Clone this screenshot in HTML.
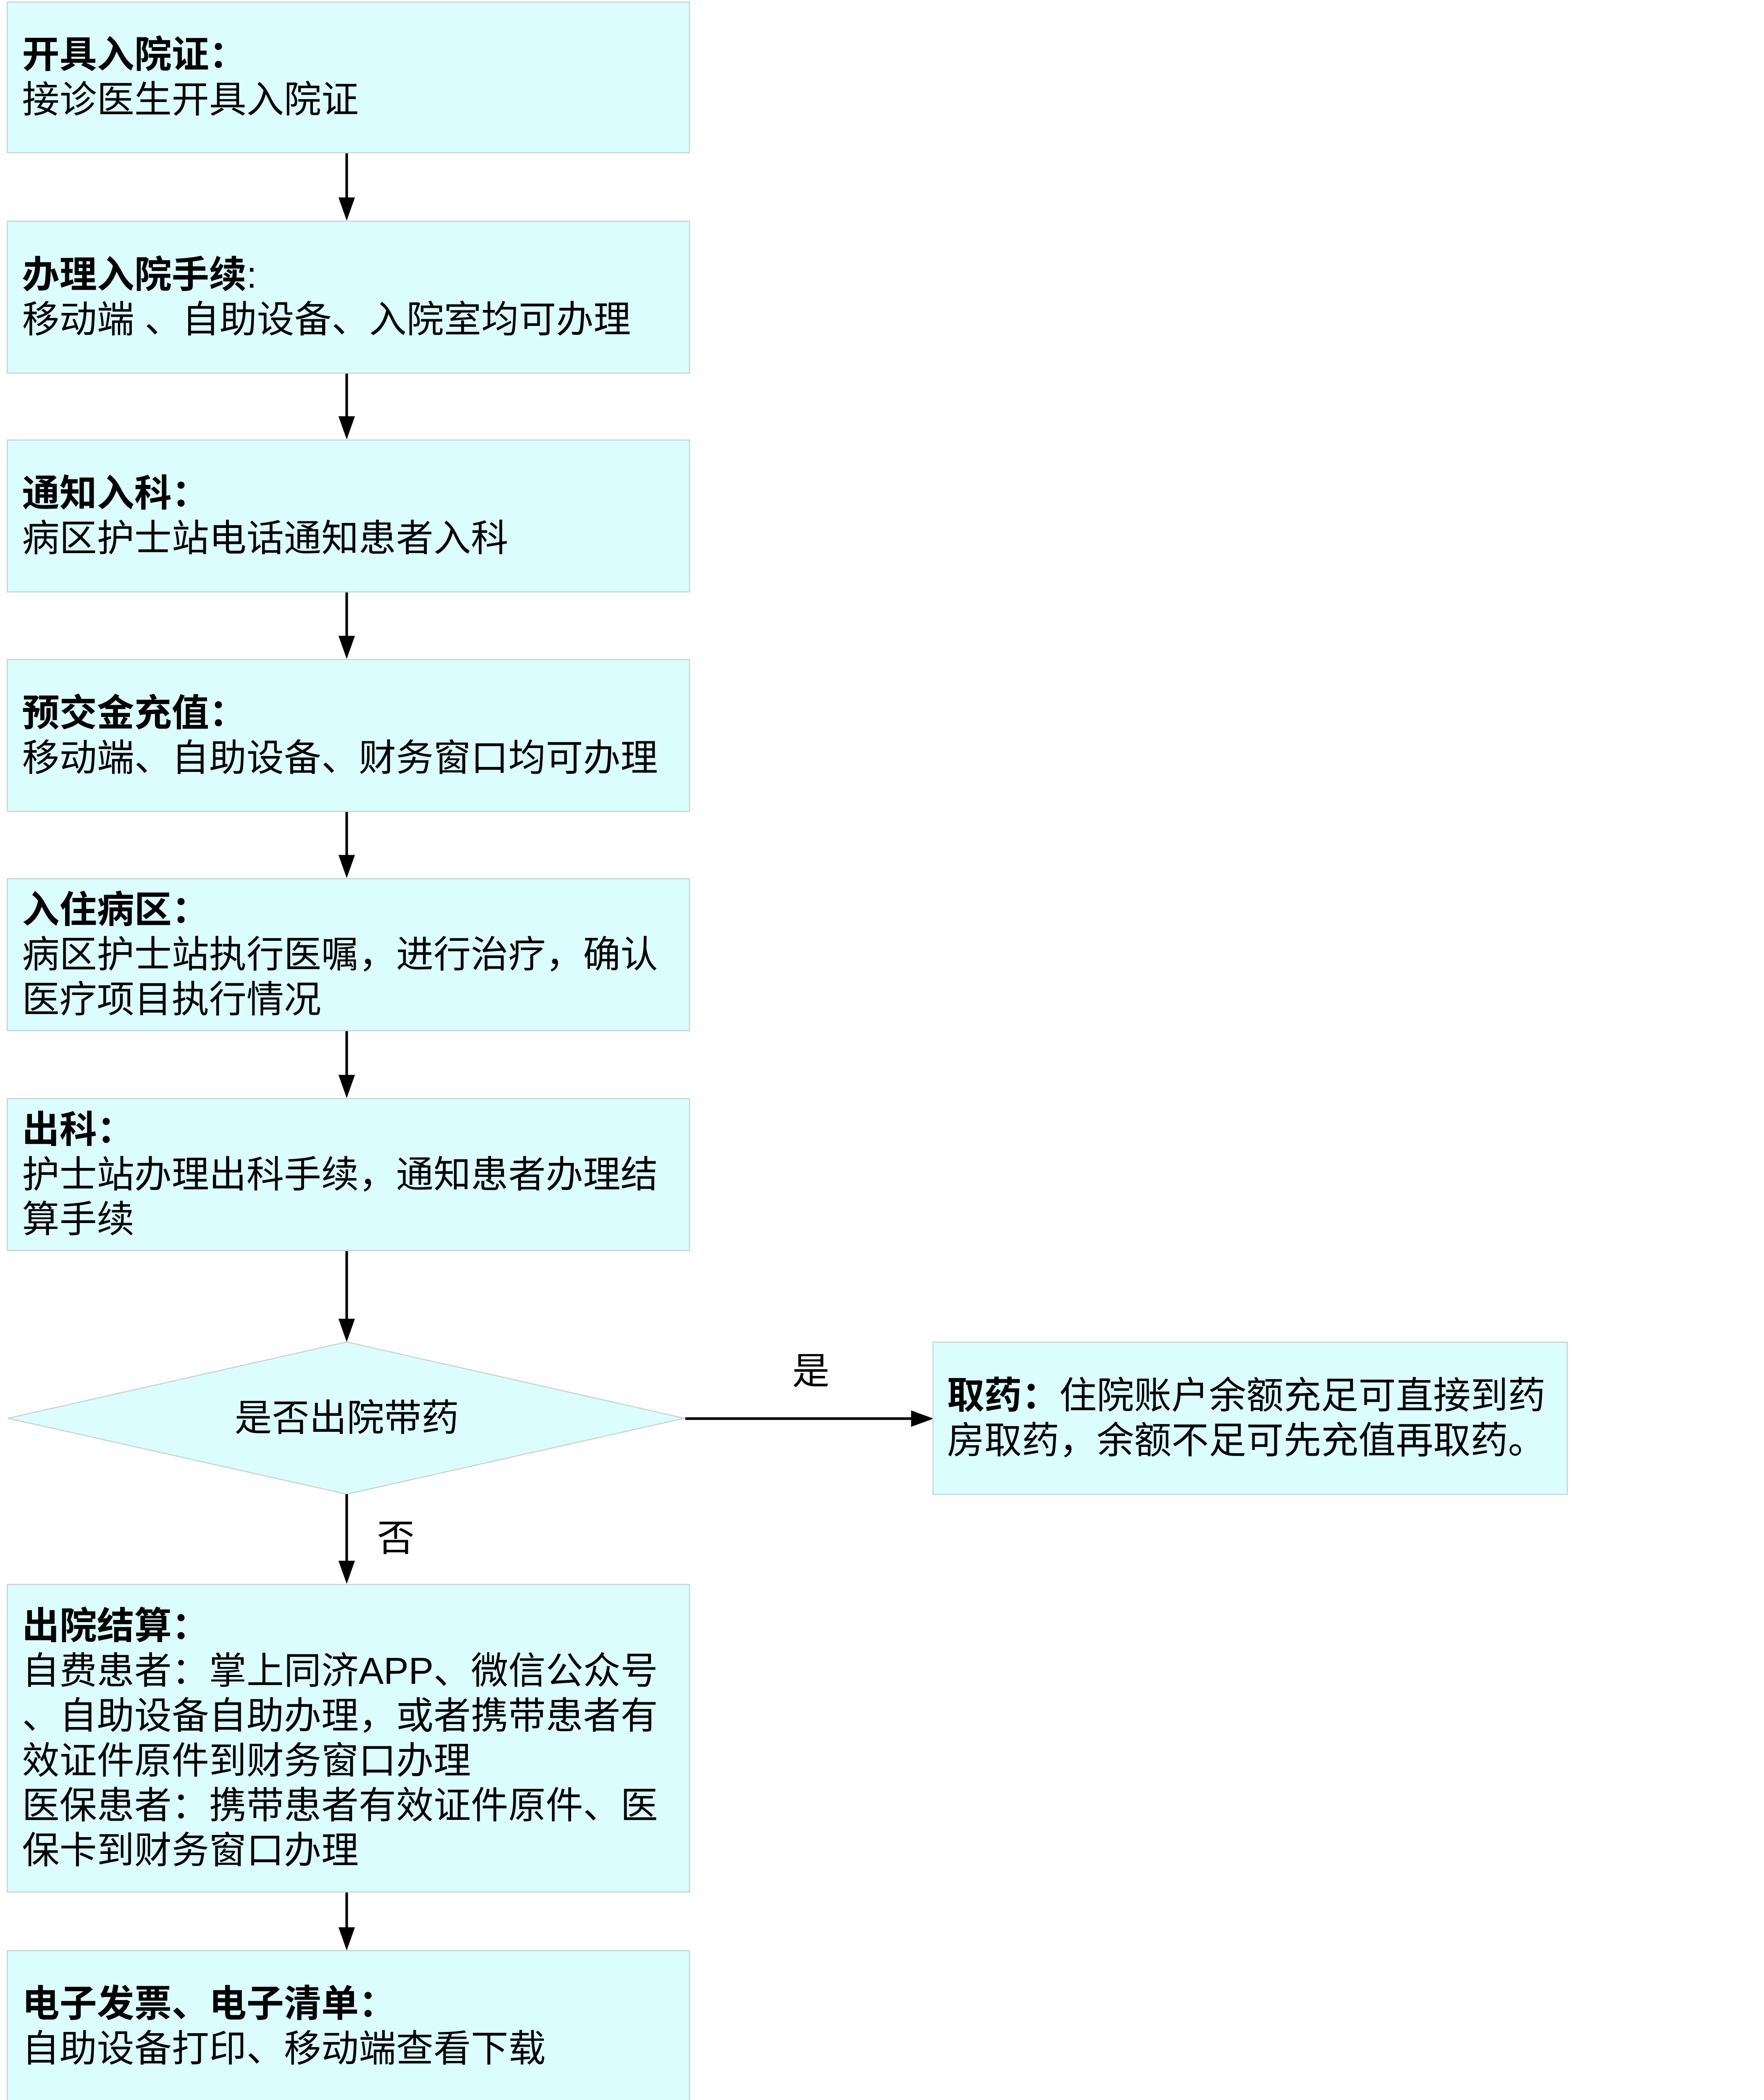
<!DOCTYPE html>
<html><head><meta charset="utf-8"><style>
html{margin:0;padding:0;width:4200px;height:5625px;overflow:hidden;background:#fff;}
body{margin:0;padding:0;background:#fff;width:4200px;height:5625px;position:relative;overflow:hidden;font-family:"Liberation Sans","Noto Sans CJK SC",sans-serif;}
#w{position:absolute;left:0;top:0;width:4200px;height:5625px;transform:scale(0.8905);transform-origin:0 0;}
.b{position:absolute;left:18px;width:1827px;background:#dcfdfd;border:3px solid #c9d3d3;box-sizing:border-box;display:flex;flex-direction:column;justify-content:center;padding-left:38px;font-size:100px;line-height:120px;color:#000;white-space:nowrap;overflow:hidden;}
.b b{font-weight:bold;}
.lbl{position:absolute;font-size:100px;line-height:110px;white-space:nowrap;}
svg{position:absolute;left:0;top:0;}
</style></head><body><div id="w">
<svg width="4200" height="5625">
<polygon points="927,3588 1830,3792 927,3995 21,3792" fill="#dcfdfd" stroke="#c9d3d3" stroke-width="3"/>
<g stroke="#000" stroke-width="7">
<line x1="927" y1="410" x2="927" y2="530"/>
<line x1="927" y1="997" x2="927" y2="1115"/>
<line x1="927" y1="1582" x2="927" y2="1702"/>
<line x1="927" y1="2170" x2="927" y2="2288"/>
<line x1="927" y1="2755" x2="927" y2="2876"/>
<line x1="927" y1="3343" x2="927" y2="3528"/>
<line x1="927" y1="3995" x2="927" y2="4175"/>
<line x1="927" y1="5059" x2="927" y2="5155"/>
<line x1="1832" y1="3793" x2="2440" y2="3793"/>
</g>
<g fill="#000">
<polygon points="905,528 949,528 927,590"/>
<polygon points="905,1113 949,1113 927,1175"/>
<polygon points="905,1700 949,1700 927,1762"/>
<polygon points="905,2286 949,2286 927,2348"/>
<polygon points="905,2874 949,2874 927,2936"/>
<polygon points="905,3526 949,3526 927,3588"/>
<polygon points="905,4173 949,4173 927,4235"/>
<polygon points="905,5153 949,5153 927,5215"/>
<polygon points="2436,3771 2436,3815 2496,3793"/>
</g>
</svg>
<div class="b" style="top:4px;height:406px;"><div><b>开具入院证：</b></div><div>接诊医生开具入院证</div></div>
<div class="b" style="top:590px;height:409px;"><div><b>办理入院手续</b>:</div><div>移动端 、自助设备、入院室均可办理</div></div>
<div class="b" style="top:1175px;height:409px;"><div><b>通知入科：</b></div><div>病区护士站电话通知患者入科</div></div>
<div class="b" style="top:1762px;height:409px;"><div><b>预交金充值：</b></div><div>移动端、自助设备、财务窗口均可办理</div></div>
<div class="b" style="top:2348px;height:409px;"><div><b>入住病区：</b></div><div>病区护士站执行医嘱，进行治疗，确认</div><div>医疗项目执行情况</div></div>
<div class="b" style="top:2936px;height:409px;"><div><b>出科：</b></div><div>护士站办理出科手续，通知患者办理结</div><div>算手续</div></div>
<div class="lbl" style="left:627px;top:3737px;width:600px;text-align:center;">是否出院带药</div>
<div class="lbl" style="left:2118px;top:3612px;">是</div>
<div class="lbl" style="left:1008px;top:4058px;">否</div>
<div class="b" style="left:2493px;width:1699px;top:3587px;height:410px;padding-left:36px;"><div><b>取药：</b>住院账户余额充足可直接到药</div><div>房取药，余额不足可先充值再取药。</div></div>
<div class="b" style="top:4235px;height:825px;"><div><b>出院结算：</b></div><div>自费患者：掌上同济APP、微信公众号</div><div>、自助设备自助办理，或者携带患者有</div><div>效证件原件到财务窗口办理</div><div>医保患者：携带患者有效证件原件、医</div><div>保卡到财务窗口办理</div></div>
<div class="b" style="top:5214px;height:408px;"><div><b>电子发票、电子清单：</b></div><div>自助设备打印、移动端查看下载</div></div>
</div></body></html>
